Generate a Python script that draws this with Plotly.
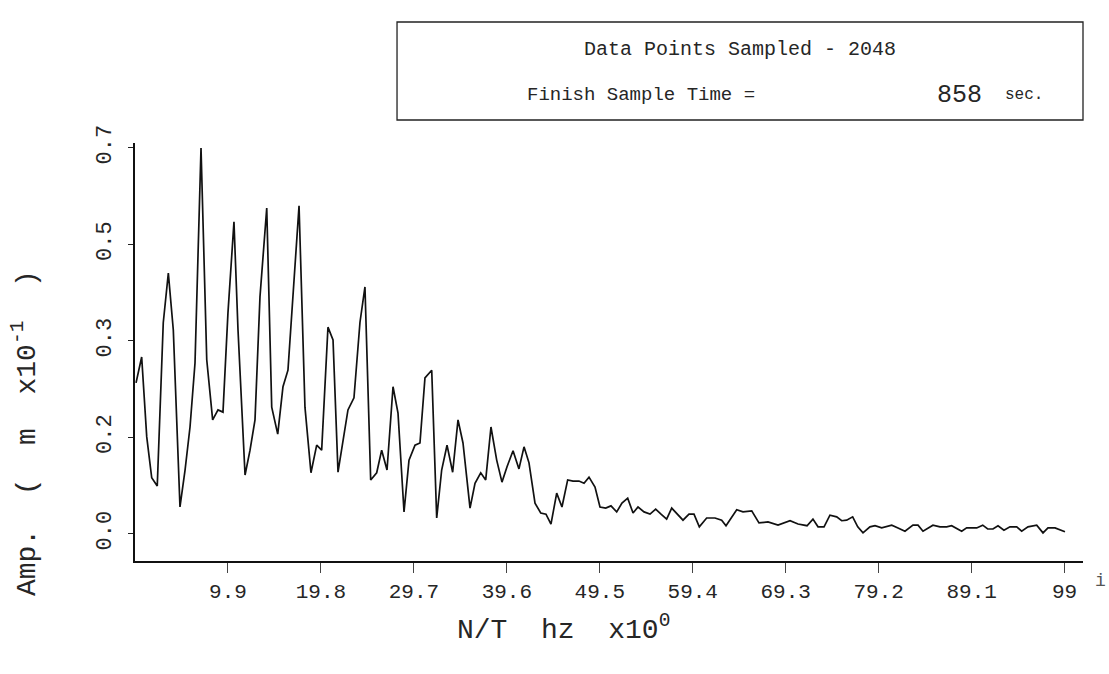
import plotly.graph_objects as go

# Spectrum: frequency (N/T, hz) and amplitude (m x10^-1)
freq = [0.11, 0.71, 1.25, 1.78, 2.37, 3.01, 3.55, 4.08, 4.79, 5.33,
        5.86, 6.39, 7.03, 7.64, 8.27, 8.84, 9.37, 9.90, 10.54, 10.97,
        11.72, 12.25, 12.78, 13.31, 14.03, 14.56, 15.20, 15.76, 16.29, 16.83,
        17.47, 18.10, 18.74, 19.35, 19.88, 20.55, 21.09, 21.62, 22.15, 22.68,
        23.32, 23.96, 24.49, 25.10, 25.74, 26.27, 26.84, 27.48, 28.01, 28.65,
        29.18, 29.82, 30.35, 30.88, 31.60, 32.13, 32.66, 33.23, 33.83, 34.40,
        34.93, 35.68, 36.21, 36.82, 37.35, 37.91, 38.52, 39.08, 39.62, 40.26,
        40.89, 41.43, 41.96, 42.60, 43.21, 43.77, 44.30, 44.91, 45.47, 46.08,
        46.65, 47.28, 47.82, 48.35, 48.99, 49.52, 50.13, 50.69, 51.30, 51.86,
        52.47, 53.04, 53.57, 54.21, 54.85, 55.45, 56.02, 56.62, 57.16, 57.72,
        58.36, 59.00, 59.53, 60.10, 60.88, 61.77, 62.48, 62.94, 63.55, 64.08,
        64.75, 65.68, 66.45, 67.41, 68.48, 69.76, 70.61, 71.57, 72.20, 72.74,
        73.38, 74.01, 74.73, 75.26, 75.79, 76.43, 76.97, 77.53, 78.27, 78.81,
        79.52, 80.59, 81.26, 82.00, 82.85, 83.39, 83.92, 84.98, 85.73, 86.44,
        86.97, 88.04, 88.57, 89.64, 90.28, 90.81, 91.37, 91.91, 92.54, 93.18,
        93.90, 94.43, 95.10, 96.03, 96.70, 97.23, 97.98, 99.04]

amp = [0.274, 0.321, 0.176, 0.102, 0.087, 0.383, 0.473, 0.370, 0.049, 0.116,
       0.194, 0.310, 0.700, 0.316, 0.207, 0.225, 0.221, 0.401, 0.566, 0.370,
       0.107, 0.152, 0.207, 0.430, 0.591, 0.230, 0.181, 0.267, 0.297, 0.430,
       0.595, 0.230, 0.111, 0.161, 0.152, 0.375, 0.352, 0.112, 0.165, 0.225,
       0.247, 0.384, 0.448, 0.098, 0.111, 0.152, 0.116, 0.267, 0.219, 0.040,
       0.134, 0.161, 0.165, 0.283, 0.297, 0.029, 0.116, 0.161, 0.112, 0.207,
       0.165, 0.047, 0.092, 0.111, 0.098, 0.194, 0.134, 0.094, 0.122, 0.151,
       0.118, 0.158, 0.129, 0.056, 0.038, 0.036, 0.018, 0.074, 0.049, 0.098,
       0.096, 0.096, 0.092, 0.103, 0.085, 0.049, 0.047, 0.051, 0.040, 0.056,
       0.065, 0.038, 0.049, 0.040, 0.036, 0.045, 0.036, 0.027, 0.047, 0.036,
       0.025, 0.036, 0.036, 0.013, 0.029, 0.029, 0.025, 0.015, 0.031, 0.044,
       0.040, 0.042, 0.020, 0.022, 0.016, 0.024, 0.018, 0.015, 0.027, 0.013,
       0.013, 0.034, 0.031, 0.024, 0.025, 0.031, 0.013, 0.002, 0.013, 0.015,
       0.011, 0.016, 0.011, 0.005, 0.016, 0.016, 0.005, 0.016, 0.013, 0.013,
       0.015, 0.005, 0.011, 0.011, 0.016, 0.009, 0.009, 0.015, 0.007, 0.013,
       0.013, 0.005, 0.013, 0.016, 0.002, 0.011, 0.011, 0.004]

x_tickvals = [9.9, 19.8, 29.7, 39.6, 49.5, 59.4, 69.3, 79.2, 89.1, 99.0]
x_ticktext = ["9.9", "19.8", "29.7", "39.6", "49.5", "59.4", "69.3", "79.2", "89.1", "99"]
y_tickvals = [0.0, 0.175, 0.35, 0.525, 0.7]
y_ticktext = ["0.0", "0.2", "0.3", "0.5", "0.7"]

FONT = "Liberation Mono"
INK = "#262626"
NB = "\u00a0"

fig = go.Figure()
fig.add_trace(go.Scatter(
    x=freq, y=amp, mode="lines",
    line=dict(color="#111111", width=1.7),
    showlegend=False, hoverinfo="skip",
))

fig.update_layout(
    width=1109, height=674, autosize=False,
    margin=dict(l=135, r=26, t=143, b=113, pad=0),
    paper_bgcolor="white", plot_bgcolor="white",
    font=dict(family=FONT, color=INK),
    xaxis=dict(
        range=[0, 100.96], showgrid=False, zeroline=False,
        showline=True, linecolor="#111", linewidth=1.6,
        ticks="outside", ticklen=10, tickwidth=1, tickcolor="#444",
        tickvals=x_tickvals, ticktext=x_ticktext,
        tickfont=dict(family=FONT, size=21, color=INK),
    ),
    yaxis=dict(
        range=[-0.049, 0.709], showgrid=False, zeroline=False,
        showline=True, linecolor="#111", linewidth=1.6,
        ticks="outside", ticklen=5, tickwidth=1.2, tickcolor="#222",
        tickvals=y_tickvals, ticktext=y_ticktext, tickangle=-90,
        ticklabelstandoff=8,
        tickfont=dict(family=FONT, size=22, color=INK),
    ),
)

# Header box with sampling information
fig.add_shape(type="rect", xref="paper", yref="paper",
              x0=0.2764, x1=1.0, y0=1.055, y1=1.2895,
              line=dict(color="#222", width=1.3), fillcolor="rgba(0,0,0,0)")

annotations = [
    dict(text="Data Points Sampled - 2048", x=0.638, y=1.2225,
         xanchor="center", yanchor="middle", font=dict(size=20)),
    dict(text="Finish Sample Time =", x=0.4114, y=1.1148,
         xanchor="left", yanchor="middle", font=dict(size=19)),
    dict(text="858", x=0.8439, y=1.1148,
         xanchor="left", yanchor="middle", font=dict(size=25)),
    dict(text="sec.", x=0.9156, y=1.1148,
         xanchor="left", yanchor="middle", font=dict(size=16)),
    dict(text=f"N/T{NB}{NB}hz{NB}{NB}x10<sup>0</sup>", x=0.3376, y=-0.1603,
         xanchor="left", yanchor="middle", font=dict(size=28)),
    dict(text=f"Amp.{NB}{NB}({NB}{NB}m{NB}{NB}x10<sup>-1</sup>{NB}{NB})",
         x=-0.116, y=0.306,
         xanchor="center", yanchor="middle", textangle=-90, font=dict(size=28)),
    dict(text="i", x=1.018, y=-0.0478,
         xanchor="center", yanchor="middle", font=dict(size=18, color="#555")),
]
for a in annotations:
    a.setdefault("xref", "paper")
    a.setdefault("yref", "paper")
    a["showarrow"] = False
    a["font"] = dict(family=FONT, color=a["font"].get("color", INK), size=a["font"]["size"])
    fig.add_annotation(**a)

fig.write_html("out.html")
